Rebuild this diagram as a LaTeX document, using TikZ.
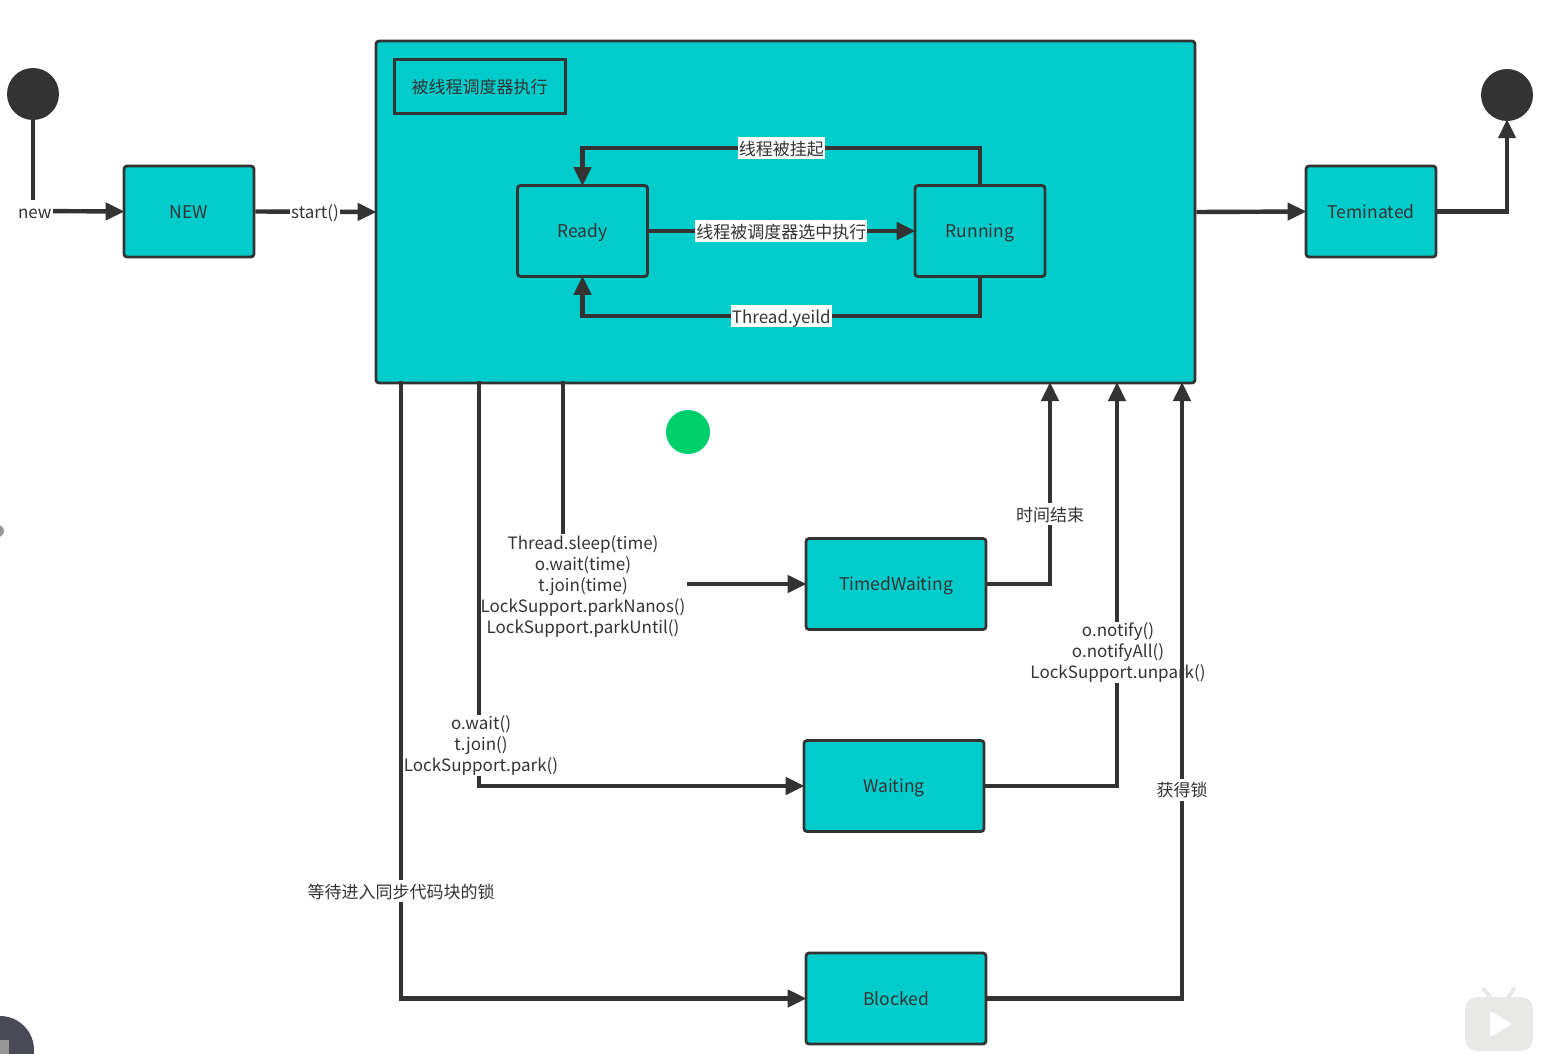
\documentclass[tikz,border=0pt]{standalone}
\usepackage{fontspec}
\setmainfont{Noto Sans CJK SC}
\usetikzlibrary{arrows.meta}
\definecolor{teal0}{HTML}{00CCCC}
\definecolor{ink}{HTML}{333333}
\definecolor{greendot}{RGB}{0,208,108}
\definecolor{avatar}{RGB}{74,74,86}
\definecolor{blob}{RGB}{150,150,150}
\definecolor{tvicon}{RGB}{232,232,230}
\tikzset{
  every node/.style={font=\fontsize{17}{21}\selectfont, text=ink, inner sep=1pt},
  box/.style={draw=ink, line width=2.8pt, fill=teal0, rounded corners=3pt, inner sep=0pt, anchor=center, text height=17pt, text depth=4pt},
  sbox/.style={box, font=\fontsize{17.5}{21}\selectfont, minimum width=130pt, minimum height=91pt},
  wbox/.style={box, font=\fontsize{17.5}{21}\selectfont, minimum width=180pt, minimum height=91pt},
  lbl/.style={fill=white, align=center},
  one/.style={lbl, text height=17pt, text depth=3pt},
  wire/.style={draw=ink, line width=4.4pt},
  arr/.style={wire, -{Triangle[length=19pt,width=17pt]}, shorten >=-2pt},
  dot/.style={circle, fill=#1, draw=none, inner sep=0pt},
}
\begin{document}
\begin{tikzpicture}[x=1pt,y=-1pt]
\useasboundingbox (0,0) rectangle (1549,1054);
\clip (0,0) rectangle (1549,1054);
% decorations of the screen capture
\fill[avatar] (0,1050) circle (34);
\fill[blob] (0,1040) rectangle (9,1054);
\fill[blob] (-2,531) circle (6);
\fill[tvicon, rounded corners=12pt] (1465,997) rectangle (1533,1051);
\draw[tvicon, line width=4pt, line cap=round] (1484,989) -- (1491,999) (1514,989) -- (1507,999);
\fill[white, rounded corners=2pt] (1490,1011) -- (1512,1024) -- (1490,1037) -- cycle;
% main nodes
\node[box, minimum width=819pt, minimum height=342pt] (main) at (785.5,212) {};
\node[box, line width=3pt, rounded corners=0pt, minimum width=171pt, minimum height=54pt] (title) at (479.5,87) {被线程调度器执行};
\node[dot=ink, minimum size=52pt] (start) at (33,94) {};
\node[dot=ink, minimum size=52pt] (end) at (1507,95) {};
\node[dot=greendot, minimum size=44pt] (green) at (688,432) {};
\node[sbox] (new) at (189,211.5) {NEW};
\node[sbox] (ready) at (582.5,231) {Ready};
\node[sbox] (running) at (980,231) {Running};
\node[sbox] (term) at (1371,211.5) {Teminated};
\node[wbox] (timed) at (896,584) {TimedWaiting};
\node[wbox] (waiting) at (894,786) {Waiting};
\node[wbox] (blocked) at (896,998.5) {Blocked};
% left and right of the main state
\coordinate (newcorner) at (33,211);
\draw[wire] (start.south) -- (newcorner) ;
\draw[arr] (newcorner) -- node[one, pos=0.02] {new} (new.west);
\draw[arr] (new.east) -- node[one, pos=.5] {start()} (main.west);
\draw[arr] (main.east) -- (term.west);
\draw[arr] (term.east) -| (end.south);
% inner transitions
\draw[arr] (ready.east) -- node[one] {线程被调度器选中执行} (running.west);
\draw[arr] (running.north) -- (980,148) -- node[one, pos=.5] {线程被挂起} (582.5,148) -- (ready.north);
\draw[arr] (running.south) -- (980,316) -- node[one, pos=.5] {Thread.yeild} (582.5,316) -- (ready.south);
% leaving main
\coordinate (m1) at (401,381);
\coordinate (m2) at (479,381);
\coordinate (m3) at (563,381);
\coordinate (in1) at (1050,384);
\coordinate (in2) at (1117,384);
\coordinate (in3) at (1182,384);
\node[lbl] (lbtimed) at (583,586.5) {Thread.sleep(time)\\o.wait(time)\\t.join(time)\\LockSupport.parkNanos()\\LockSupport.parkUntil()};
\draw[wire] (m3) -- (m3 |- lbtimed.north);
\draw[arr] (timed.west -| lbtimed.east) -- (timed.west);
\draw[arr] (m2) |- node[lbl, pos=.45, xshift=2pt] (lbwait) {o.wait()\\t.join()\\LockSupport.park()} (waiting.west);
\draw[arr] (m1) |- node[one, pos=.413] (lbblock) {等待进入同步代码块的锁} (blocked.west);
% returning to main
\draw[arr] (timed.east) -| node[one, pos=.675] {时间结束} (in1);
\draw[arr] (waiting.east) -| node[lbl, pos=.666, xshift=1pt] {o.notify()\\o.notifyAll()\\LockSupport.unpark()} (in2);
\draw[arr] (blocked.east) -| node[one, pos=.67] {获得锁} (in3);
\end{tikzpicture}
\end{document}
